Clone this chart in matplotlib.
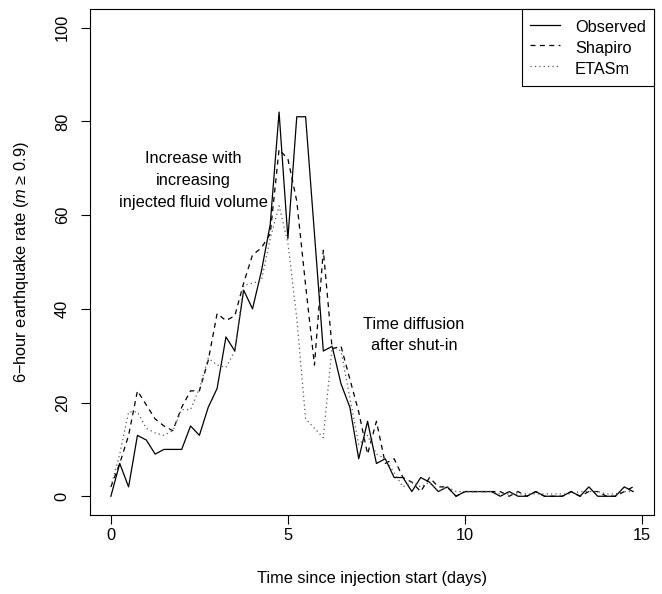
import matplotlib
matplotlib.use("Agg")
import matplotlib.pyplot as plt
import numpy as np

plt.rcParams['font.family'] = ['Liberation Sans', 'DejaVu Sans']
plt.rcParams['mathtext.fontset'] = 'custom'
plt.rcParams['mathtext.it'] = 'Liberation Sans:italic'
plt.rcParams['mathtext.rm'] = 'Liberation Sans'

step_days = 0.25
observed = [0, 7, 2, 13, 12, 9, 10, 10, 10, 15,
            13, 19, 23, 34, 31, 44, 40, 48, 58, 82,
            55, 81, 81, 56, 31, 32, 24, 19, 8, 16,
            7, 8, 4, 4, 1, 4, 3, 1, 2, 0,
            1, 1, 1, 1, 0, 1, 0, 0, 1, 0,
            0, 0, 1, 0, 2, 0, 0, 0, 2, 1]
shapiro = [2, 7, 13, 22.5, 19.5, 16.5, 15, 14, 19, 22.5,
           22.5, 29, 39, 37.5, 38.5, 45.5, 51.5, 53, 56, 74,
           72, 63, 45, 28, 52.5, 31.5, 32, 25, 18, 9,
           16, 7, 8, 4, 3, 1, 4, 2, 2, 0,
           1, 1, 1, 1, 1, 0, 1, 0, 1, 0,
           0, 0, 1, 0, 1, 1, 0, 0, 1, 2]
etasm = [2, 9, 18, 18, 14.5, 13.5, 13, 14, 18.5, 18.5,
         23, 29.5, 28, 27.5, 31, 45, 45.5, 46, 55, 62,
         54, 38, 16.5, 14.5, 12.5, 32, 31, 21, 11, 13,
         9, 8, 5, 2, 3, 2, 3, 1, 2, 1,
         1, 1, 1, 1, 0.5, 0.5, 0.5, 0.5, 0.5, 0.5,
         0.5, 0.5, 0.5, 1, 1, 1, 0.5, 0.5, 1, 1]
t = np.arange(len(observed)) * step_days

xticks = [0, 5, 10, 15]
yticks = [0, 20, 40, 60, 80, 100]

fig = plt.figure(figsize=(6.62, 5.94), dpi=100)
ax = fig.add_axes([90/662, 1-515/594, (654-90)/662, (515-9)/594])

lw = 0.9
ax.plot(t, observed, color='black', lw=lw, linestyle='-', label='Observed')
ax.plot(t, shapiro, color='black', lw=lw, linestyle=(0, (4, 3.5)), label='Shapiro')
ax.plot(t, etasm, color='0.35', lw=lw, linestyle=(0, (1, 2.5)), label='ETASm')

ax.set_xlim(-0.59, 15.34)
ax.set_ylim(-4, 104)
ax.set_xticks(xticks)
ax.set_yticks(yticks)
fs = 11.8
ax.tick_params(axis='both', direction='out', length=6.5, width=0.8, labelsize=fs)
ax.tick_params(axis='x', pad=3)
ax.tick_params(axis='y', pad=8)
for lab in ax.get_yticklabels():
    lab.set_rotation(90)
    lab.set_va('center')
for s in ax.spines.values():
    s.set_linewidth(0.8)

ax.set_xlabel('Time since injection start (days)', fontsize=fs, labelpad=20)
ax.set_ylabel('6\u2212hour earthquake rate ($m$ \u2265 0.9)', fontsize=fs, labelpad=17)

ax.text(2.34, 67.4, 'Increase with\nincreasing\ninjected fluid volume',
        ha='center', va='center', fontsize=fs, linespacing=1.6)
ax.text(8.56, 34.4, 'Time diffusion\nafter shut-in',
        ha='center', va='center', fontsize=fs, linespacing=1.55)

leg = ax.legend(loc='upper right', borderaxespad=0, fancybox=False,
                edgecolor='black', framealpha=1, fontsize=fs,
                handlelength=1.85, handletextpad=0.9, labelspacing=0.1,
                handleheight=1.42, borderpad=0.5)
leg.get_frame().set_linewidth(0.8)

fig.savefig('out.png', dpi=100)
